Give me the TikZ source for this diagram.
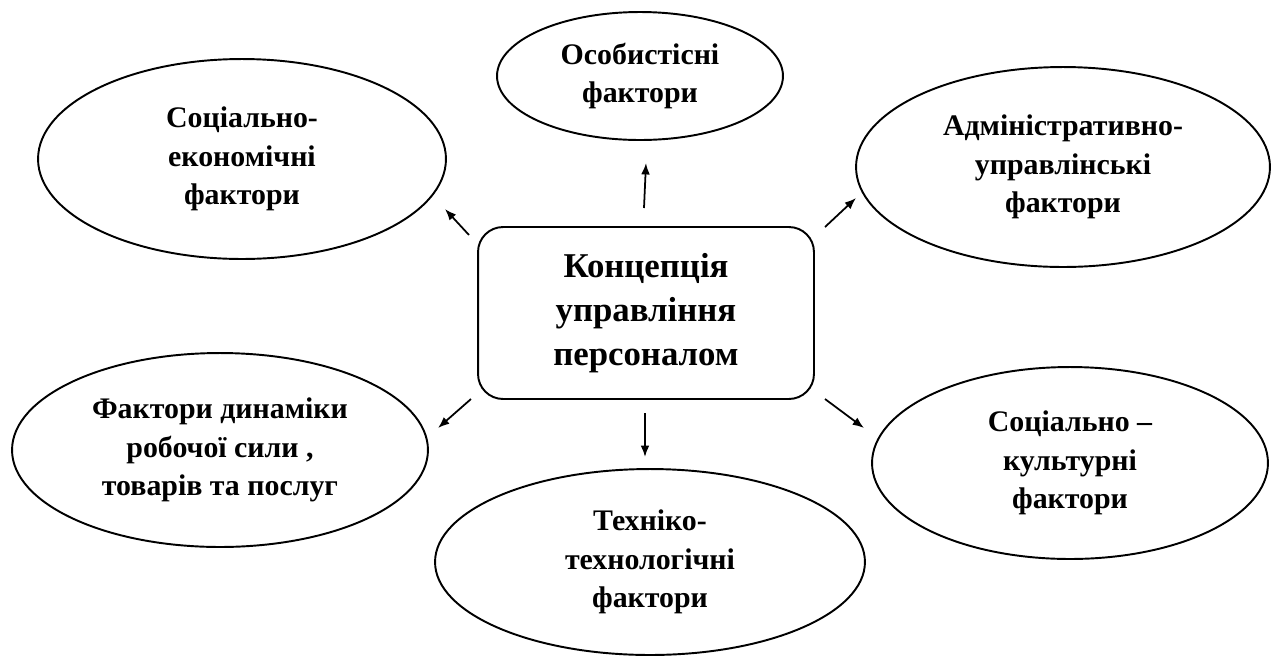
\documentclass[tikz,border=0pt]{standalone}
\usepackage{fontspec}
\setmainfont{Liberation Serif}
\usepackage{tikz}
\usetikzlibrary{shapes.geometric,arrows.meta}

\tikzset{
  factor/.style={draw, ellipse, line width=1.1pt, inner sep=0pt, align=center,
    font=\bfseries\fontsize{17}{22}\selectfont},
  concept/.style={draw, rectangle, rounded corners=0.5cm, line width=1.1pt, align=center,
    minimum width=6.72cm, minimum height=3.44cm,
    font=\bfseries\fontsize{19.8}{25.2}\selectfont},
  link/.style={-{Latex[length=6.5pt,width=5pt]}, line width=1pt}
}

\begin{document}
\begin{tikzpicture}[x=0.02cm,y=-0.02cm]
  \useasboundingbox (0,0) rectangle (1272,657);

  \node [concept] (hr) at (646,313) {Концепція\\управління\\персоналом};

  \node [factor, minimum width=5.72cm, minimum height=2.56cm] (pers) at (640,76) {Особистісні\\фактори};
  \node [factor, minimum width=8.16cm, minimum height=4cm] (socec) at (242,159) {Соціально-\\економічні\\фактори};
  \node [factor, minimum width=8.28cm, minimum height=4cm] (admin) at (1063,167) {Адміністративно-\\управлінські\\фактори};
  \node [factor, minimum width=8.32cm, minimum height=3.88cm] (dyn) at (220,450) {Фактори динаміки\\робочої сили ,\\товарів та послуг};
  \node [factor, minimum width=7.92cm, minimum height=3.84cm] (cult) at (1070,463) {Соціально –\\культурні\\фактори};
  \node [factor, minimum width=8.6cm, minimum height=3.72cm] (tech) at (650,562) {Техніко-\\технологічні\\фактори};

  \coordinate (pers-a) at (644,208);
  \coordinate (pers-b) at (646,163);
  \coordinate (socec-a) at (469,235);
  \coordinate (socec-b) at (445,209);
  \coordinate (admin-a) at (825,227);
  \coordinate (admin-b) at (856,198);
  \coordinate (dyn-a) at (471,399);
  \coordinate (dyn-b) at (438,428);
  \coordinate (tech-a) at (645,413);
  \coordinate (tech-b) at (645,457);
  \coordinate (cult-a) at (825,399);
  \coordinate (cult-b) at (864,428);

  \draw [link] (pers-a) -- (pers-b);
  \draw [link] (socec-a) -- (socec-b);
  \draw [link] (admin-a) -- (admin-b);
  \draw [link] (dyn-a) -- (dyn-b);
  \draw [link] (tech-a) -- (tech-b);
  \draw [link] (cult-a) -- (cult-b);
\end{tikzpicture}
\end{document}
